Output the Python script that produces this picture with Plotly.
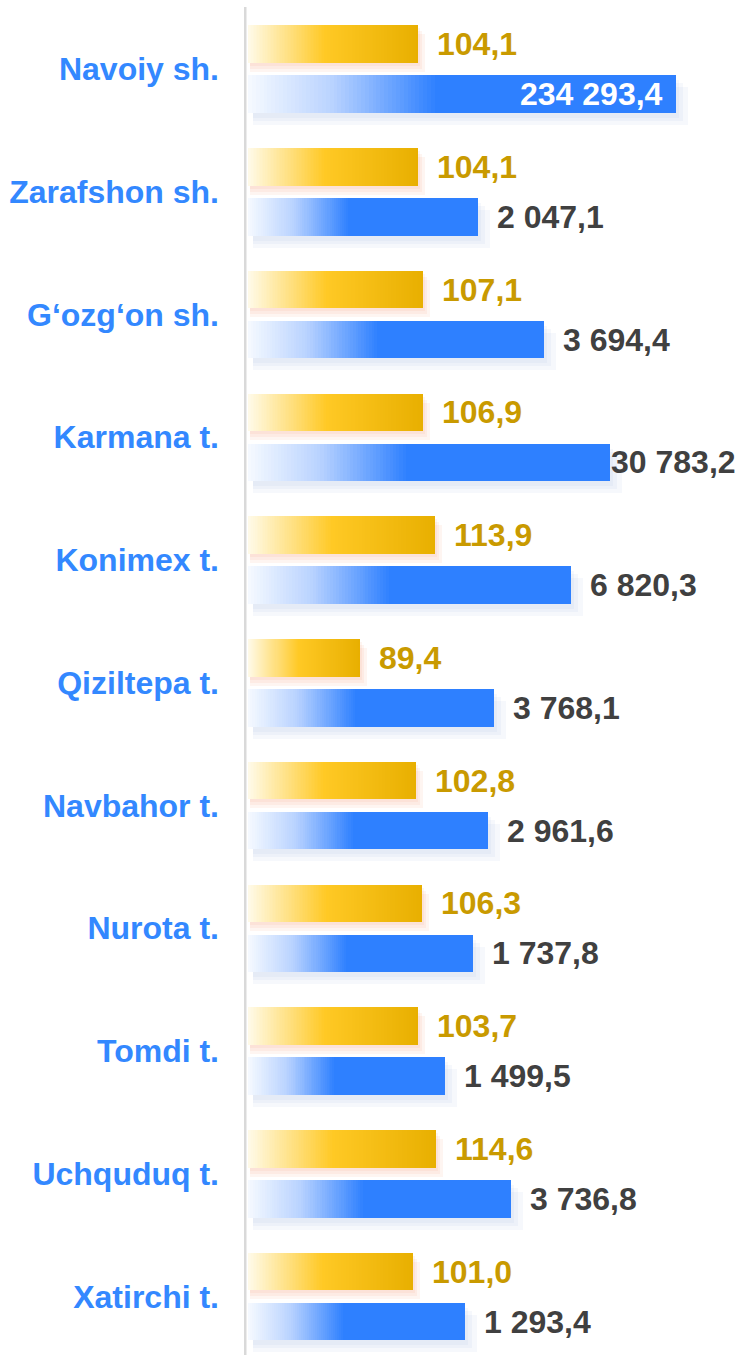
import plotly.graph_objects as go

# ---- data ----
categories = ["Navoiy sh.", "Zarafshon sh.", "G\u2018ozg\u2018on sh.", "Karmana t.", "Konimex t.",
              "Qiziltepa t.", "Navbahor t.", "Nurota t.", "Tomdi t.", "Uchquduq t.", "Xatirchi t."]
growth = [104.1, 104.1, 107.1, 106.9, 113.9, 89.4, 102.8, 106.3, 103.7, 114.6, 101.0]
volume = [234293.4, 2047.1, 3694.4, 30783.2, 6820.3, 3768.1, 2961.6, 1737.8, 1499.5, 3736.8, 1293.4]
# drawn bar lengths (the picture's bars are not proportional to the printed values)
growth_len = [170, 170, 175, 175, 187, 112, 168, 174, 170, 188, 165]
volume_len = [428, 230, 296, 362, 323, 246, 240, 225, 197, 263, 217]

# ---- styling ----
W, H = 735, 1355
ML = 244
GROUP_PX = 122.75
CENTER0 = 69
FONT = "Liberation Sans, Arial, sans-serif"
FS = 32
BAR_W = 37.5 / GROUP_PX
OFF = 25 / GROUP_PX
N_SEG = 110


def fmt(v):
    return f"{v:,.1f}".replace(",", " ").replace(".", ",")


def hex2rgb(h):
    h = h.lstrip("#")
    return tuple(int(h[i:i + 2], 16) for i in (0, 2, 4))


def mix(c1, c2, t):
    a, b = hex2rgb(c1), hex2rgb(c2)
    return "rgb(%d,%d,%d)" % tuple(round(a[i] + (b[i] - a[i]) * t) for i in range(3))


def grad(stops, t):
    for (t0, c0), (t1, c1) in zip(stops, stops[1:]):
        if t <= t1:
            return mix(c0, c1, (t - t0) / (t1 - t0) if t1 > t0 else 0)
    return mix(stops[-1][1], stops[-1][1], 0)


yellow_stops = [(0.0, "#FFFAEA"), (0.45, "#FFC925"), (1.0, "#E8AF00")]
blue_stops = [(0.0, "#F6FAFF"), (0.2, "#B8D2FF"), (0.44, "#2E80FF"), (1.0, "#2E80FF")]

idx = list(range(len(categories)))
y_g = [i - OFF for i in idx]
y_v = [i + OFF for i in idx]

fig = go.Figure()

# soft shadows (stacked translucent layers imitate a blur)
for d, e in ((9, 7), (6, 4), (3, 2)):
    fig.add_trace(go.Bar(orientation="h", y=[y + d / GROUP_PX for y in y_g],
                         x=[l + e - 2 for l in growth_len], base=[2] * len(idx),
                         width=BAR_W, marker=dict(color="rgba(240,140,100,0.09)", line_width=0),
                         hoverinfo="skip"))
for d, e in ((12, 12), (8, 7), (5, 3)):
    fig.add_trace(go.Bar(orientation="h", y=[y + d / GROUP_PX for y in y_v],
                         x=[l + e - 5 for l in volume_len], base=[5] * len(idx),
                         width=BAR_W, marker=dict(color="rgba(130,160,210,0.07)", line_width=0),
                         hoverinfo="skip"))

# gradient bars: overlapping segments, each running to the bar end
for lens, ys, stops in ((growth_len, y_g, yellow_stops), (volume_len, y_v, blue_stops)):
    for k in range(N_SEG):
        f = k / N_SEG
        fig.add_trace(go.Bar(orientation="h", y=ys,
                             base=[l * f for l in lens],
                             x=[l * (1 - f) for l in lens],
                             width=BAR_W,
                             marker=dict(color=grad(stops, (k + 0.5) / N_SEG), line_width=0),
                             hoverinfo="skip"))


def text_w(s):
    w = 0
    for ch in s:
        w += 0.556 if ch.isdigit() else 0.278
    return w * FS


annotations = []
plot_w = W - ML - 4
for i in idx:
    annotations.append(dict(x=growth_len[i] + 17, y=y_g[i], xref="x", yref="y",
                            text=fmt(growth[i]), showarrow=False, xanchor="left", yanchor="middle",
                            font=dict(family=FONT, size=FS, color="#C99A00", weight="bold")))
    s = fmt(volume[i])
    w = text_w(s)
    L = volume_len[i]
    if L + 17 + w <= plot_w:
        a = dict(x=L + 17, xanchor="left", color="#404040")
    elif L + 2 + w <= plot_w + 4:
        a = dict(x=L - 1, xanchor="left", color="#404040")
    else:
        a = dict(x=L - 11, xanchor="right", color="#FFFFFF")
    annotations.append(dict(x=a["x"], y=y_v[i], xref="x", yref="y", text=s, showarrow=False,
                            xanchor=a["xanchor"], yanchor="middle",
                            font=dict(family=FONT, size=FS, color=a["color"], weight="bold")))

top = -CENTER0 / GROUP_PX
bottom = (H - CENTER0) / GROUP_PX

fig.update_layout(
    width=W, height=H,
    margin=dict(l=ML, r=0, t=0, b=0),
    paper_bgcolor="white", plot_bgcolor="white",
    barmode="overlay", showlegend=False, bargap=0,
    annotations=annotations,
    xaxis=dict(range=[-4, W - ML - 4], visible=False, fixedrange=True),
    yaxis=dict(range=[bottom, top], tickvals=idx, ticktext=categories,
               showgrid=False, zeroline=False, showline=False, ticks="",
               ticklabelstandoff=24,
               tickfont=dict(family=FONT, size=FS, color="#3388FF", weight="bold")),
    shapes=[dict(type="line", xref="x", yref="paper", x0=-3, x1=-3, y0=0, y1=(H - 7) / H,
                 line=dict(color="#D9D9D9", width=3), layer="below")],
)

fig.write_html("out.html")
